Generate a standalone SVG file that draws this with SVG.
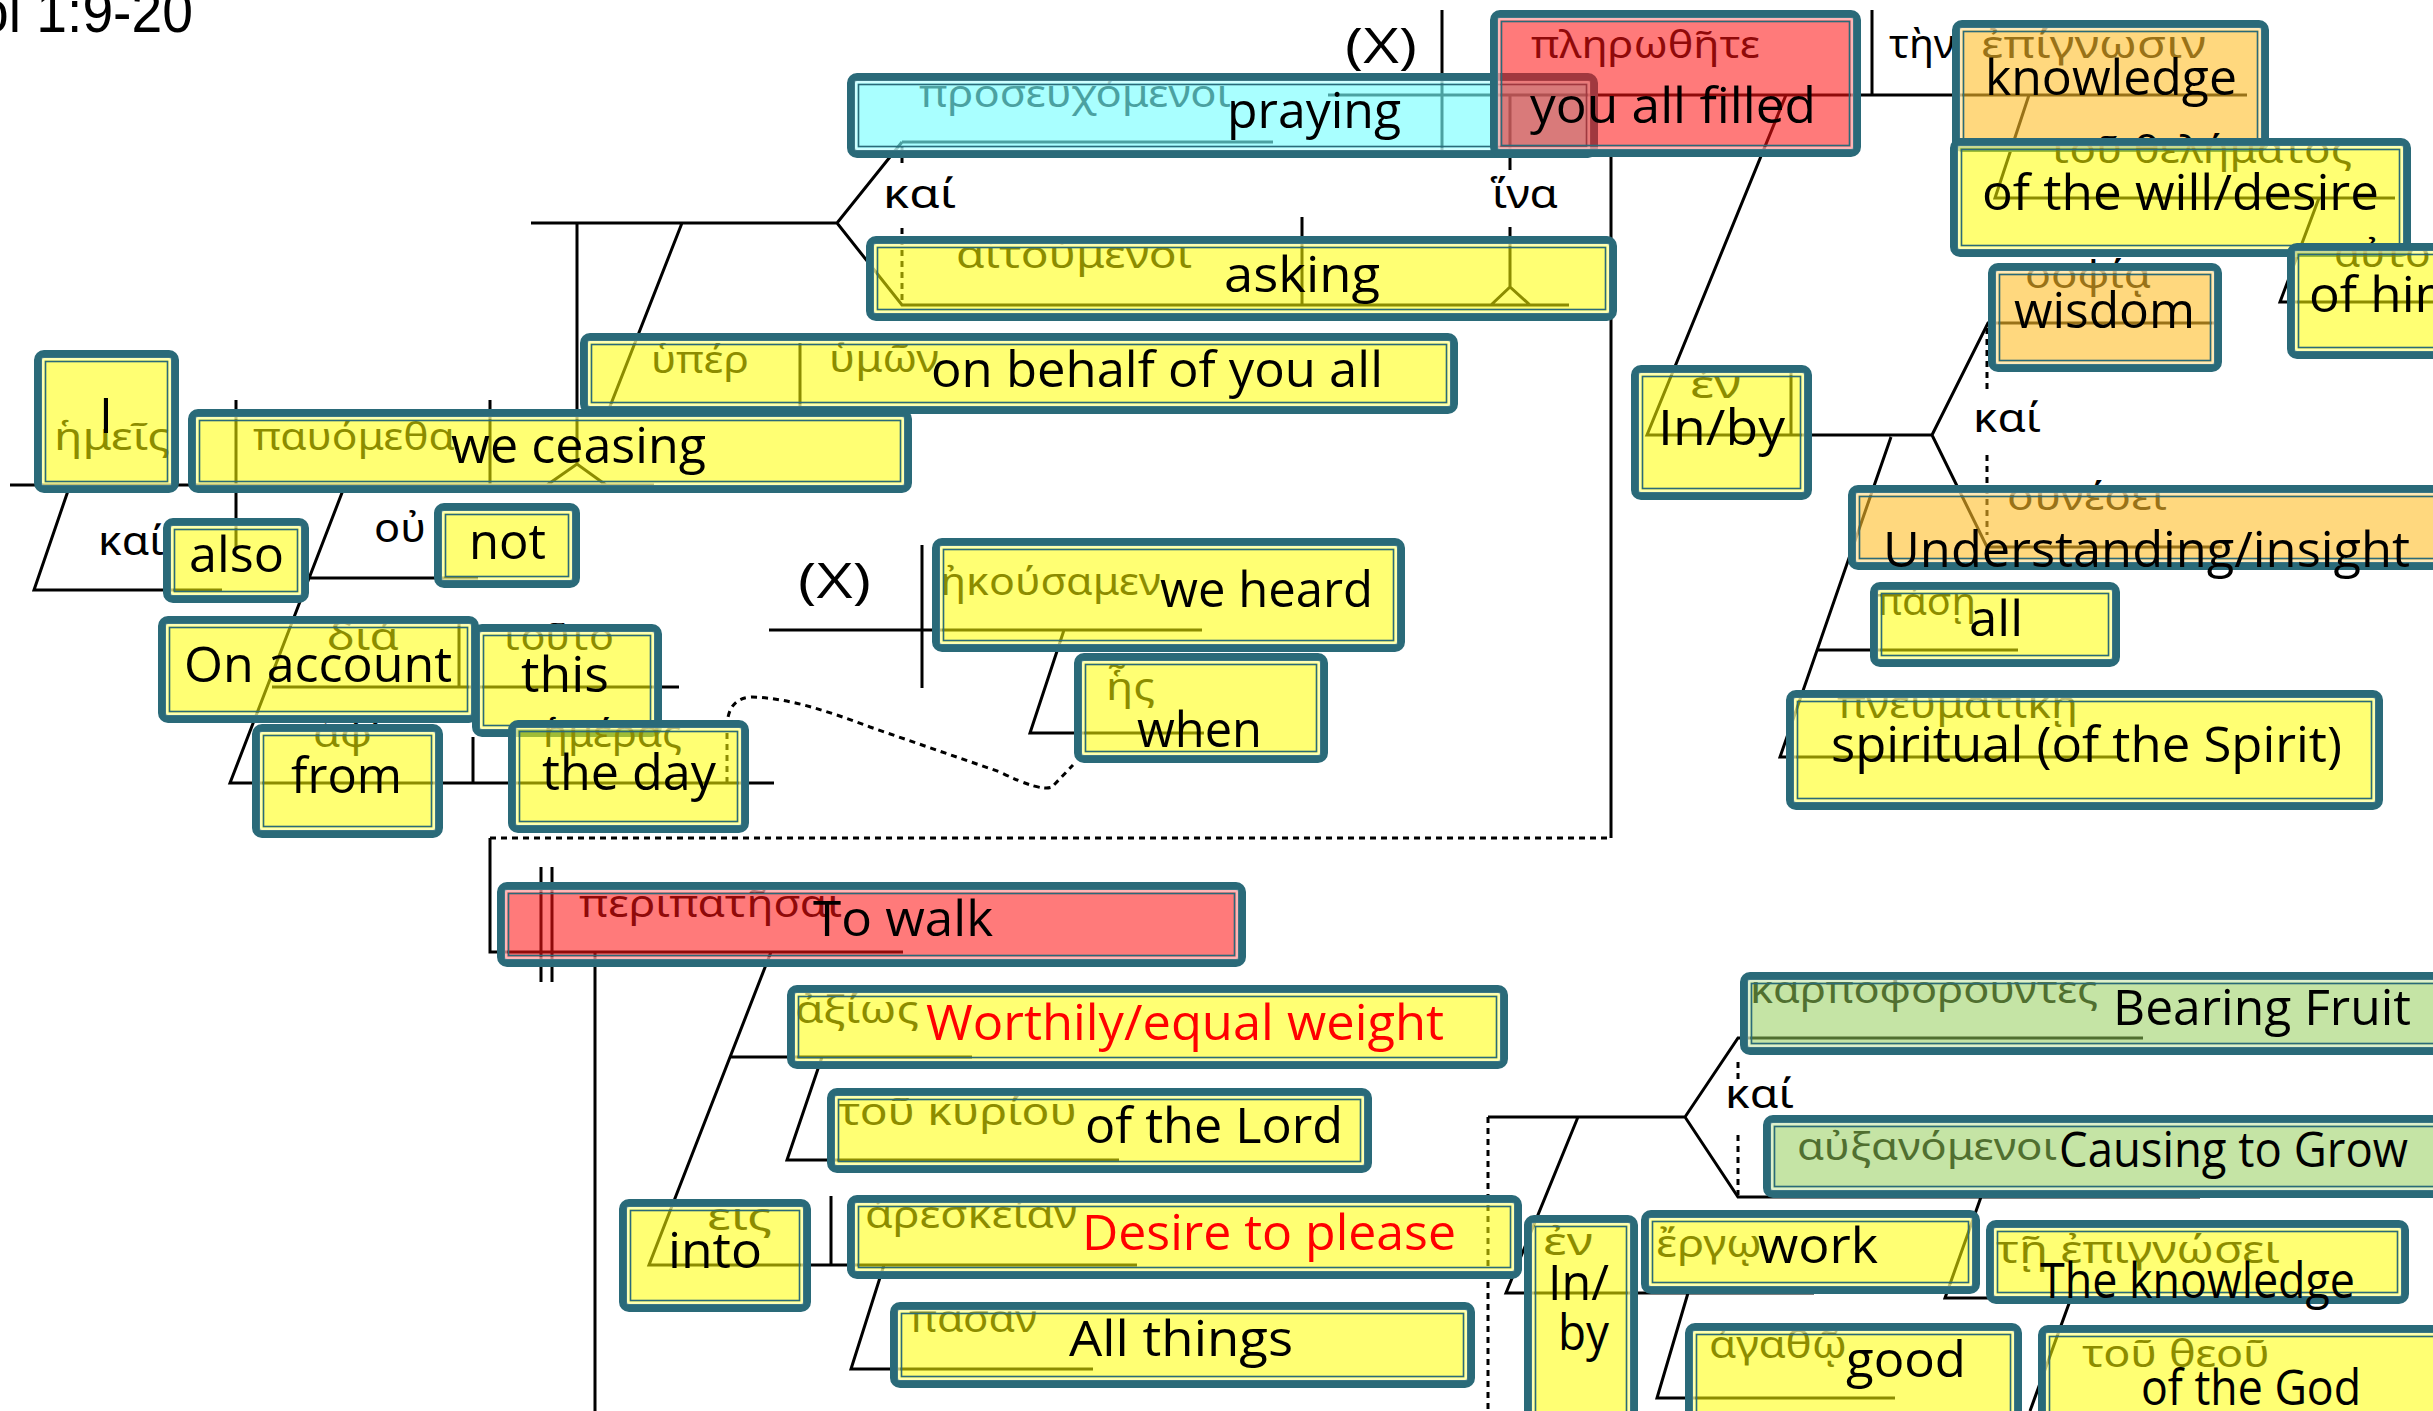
<svg xmlns="http://www.w3.org/2000/svg" width="2433" height="1411" viewBox="0 0 2433 1411">
<style>
.b{stroke:#2A6A79;stroke-width:8}
.y{fill:#FFFF00;fill-opacity:0.55}
.r{fill:#FF1212;fill-opacity:0.56}
.c{fill:#77FFFF;fill-opacity:0.63}
.o{fill:#FFBE28;fill-opacity:0.6}
.g{fill:#94CD58;fill-opacity:0.54}
.pl{fill:none;stroke:#FFFFFF;stroke-opacity:0.45;stroke-width:2.4}
.in{fill:none;stroke:#2A6A79;stroke-width:1.6}
.en{font-family:"Open Sans","DejaVu Sans",sans-serif;font-size:50px;fill:#000}
.red{fill:#FF0000}
.gr{font-family:"Noto Sans","DejaVu Sans",sans-serif;font-size:39px;fill:#000}
.gl{font-family:"Noto Sans","DejaVu Sans",sans-serif;font-size:40px;fill:#000}
.tt{font-family:"Liberation Sans",Arial,sans-serif;font-size:60px;fill:#000}
.ln{stroke:#000;stroke-width:3;fill:none}
.dl{stroke:#000;stroke-width:3;fill:none;stroke-dasharray:6 5}
</style>
<rect x="0" y="0" width="2433" height="1411" fill="#FFFFFF"/>
<text id="title" class="tt" x="-62" y="32" textLength="255" lengthAdjust="spacingAndGlyphs">Col 1:9-20</text>

<g id="connectors">
<path class="ln" d="M1328,95 H2247 M1442,10 V152 M1872,10 V95 M1510,95 V170 M1510,227 V287 M1491,305 L1510,287 L1530,305 M902,142 H1273 M902,142 L837,223 L902,305 H1569 M531,223 H837 M1302,217 V305 M577,223 V466 M547,485 L577,464 L606,485 M10,485 H654 M236,400 V550 M490,400 V485 M682,223 L609,409 H991 M800,343 V409 M70,485 L34,590 H222 M345,485 L230,783 H774 M310,578 H478 M272,687 H679 M459,622 V687 M473,737 V783 M769,630 H1202 M922,545 V688 M1064,630 L1030,733 H1204 M1611,155 V838 M490,838 V952 H903 M541,867 V982 M552,867 V982 M595,952 V1411 M771,952 L649,1265 H1137 M730,1057 H972 M822,1057 L787,1160 H1119 M831,1196 V1265 M884,1265 L851,1369 H1093 M1488,1117 H1685 M1685,1117 L1738,1038 H2143 M1685,1117 L1738,1197 H2200 M1578,1117 L1506,1293 H1814 M1688,1293 L1657,1398 H1895 M1981,1197 L1945,1298 H2403 M2071,1298 L2030,1411 M1786,95 L1647,435 H1932 M1791,373 V435 M1932,435 L1988,323 H2214 M1932,435 L1987,547 H2222 M1891,437 L1780,757 H2120 M1817,650 H2018 M2029,95 L1995,198 H2395 M2319,198 L2280,302 H2440"/>
<path class="dl" d="M902,146 V166 M902,228 V305 M1488,1117 V1411 M1738,1062 V1080 M1738,1135 V1195 M1987,328 V390 M1987,455 V535"/>
<path class="dl" stroke-dasharray="7 5" d="M490,838 H1611"/>
<path class="dl" d="M727,783 L727,728 Q727,698 752,697 C790,698 830,712 870,727 L1000,772 Q1040,792 1052,787 L1073,765"/>
</g>

<g id="labels">
<text class="gl" x="883" y="208" textLength="73" lengthAdjust="spacingAndGlyphs">καί</text>
<text class="gl" x="1492" y="208" textLength="66" lengthAdjust="spacingAndGlyphs">ἵνα</text>
<text class="gl" x="1889" y="58" textLength="66" lengthAdjust="spacingAndGlyphs">τὴν</text>
<text class="gl" x="1973" y="432" textLength="68" lengthAdjust="spacingAndGlyphs">καί</text>
<text class="gl" x="98" y="555" textLength="66" lengthAdjust="spacingAndGlyphs">καί</text>
<text class="gl" x="374" y="542" textLength="52" lengthAdjust="spacingAndGlyphs">οὐ</text>
<text class="gl" x="1725" y="1108" textLength="69" lengthAdjust="spacingAndGlyphs">καί</text>
</g>

<g id="x-top"><text class="en" font-size="52" x="1345" y="63" textLength="72" lengthAdjust="spacingAndGlyphs">(X)</text></g>
<g id="x-mid"><text class="en" font-size="52" x="798" y="598" textLength="73" lengthAdjust="spacingAndGlyphs">(X)</text></g>

<g id="n-hemeis">
<text class="gr" x="54" y="450" textLength="116" lengthAdjust="spacingAndGlyphs">ἡμεῖς</text>
<rect class="b y" x="38" y="354" width="137" height="135" rx="6"/>
<rect class="pl" x="43" y="359" width="127" height="125"/><rect class="in" x="45.5" y="361.5" width="122" height="120"/>
<text class="en" font-size="46" x="99" y="433">I</text>
</g>

<g id="n-ceasing">
<text class="gr" x="253" y="450" textLength="202" lengthAdjust="spacingAndGlyphs">παυόμεθα</text>
<rect class="b y" x="192" y="413" width="716" height="76" rx="6"/>
<rect class="pl" x="197" y="418" width="706" height="66"/><rect class="in" x="199.5" y="420.5" width="701" height="61"/>
<text class="en" x="451" y="463" textLength="255" lengthAdjust="spacingAndGlyphs">we ceasing</text>
</g>

<g id="n-behalf">
<text class="gr" x="651" y="373" textLength="98" lengthAdjust="spacingAndGlyphs">ὑπέρ</text>
<text class="gr" x="829" y="372" textLength="110" lengthAdjust="spacingAndGlyphs">ὑμῶν</text>
<rect class="b y" x="584" y="337" width="870" height="73" rx="6"/>
<rect class="pl" x="589" y="342" width="860" height="63"/><rect class="in" x="591.5" y="344.5" width="855" height="58"/>
<text class="en" x="931" y="387" textLength="452" lengthAdjust="spacingAndGlyphs">on behalf of you all</text>
</g>

<g id="n-praying">
<text class="gr" x="919" y="107" textLength="312" lengthAdjust="spacingAndGlyphs">προσευχόμενοι</text>
<rect class="b c" x="851" y="77" width="743" height="77" rx="6"/>
<rect class="pl" x="856" y="82" width="733" height="67"/><rect class="in" x="858.5" y="84.5" width="728" height="62"/>
<text class="en" x="1227" y="128" textLength="174" lengthAdjust="spacingAndGlyphs">praying</text>
</g>

<g id="n-asking">
<text class="gr" x="956" y="268" textLength="236" lengthAdjust="spacingAndGlyphs">αἰτούμενοι</text>
<rect class="b y" x="870" y="240" width="743" height="77" rx="6"/>
<rect class="pl" x="875" y="245" width="733" height="67"/><rect class="in" x="877.5" y="247.5" width="728" height="62"/>
<text class="en" x="1224" y="292" textLength="156" lengthAdjust="spacingAndGlyphs">asking</text>
</g>

<g id="n-filled">
<text class="gr" x="1531" y="58" textLength="229" lengthAdjust="spacingAndGlyphs">πληρωθῆτε</text>
<rect class="b r" x="1494" y="14" width="363" height="139" rx="6"/>
<rect class="pl" x="1499" y="19" width="353" height="129"/><rect class="in" x="1501.5" y="21.5" width="348" height="124"/>
<text class="en" x="1530" y="123" textLength="286" lengthAdjust="spacingAndGlyphs">you all filled</text>
</g>

<g id="n-knowledge">
<text class="gr" x="1981" y="58" textLength="225" lengthAdjust="spacingAndGlyphs">ἐπίγνωσιν</text>
<rect class="b o" x="1956" y="24" width="309" height="124" rx="6"/>
<rect class="pl" x="1961" y="29" width="299" height="114"/><rect class="in" x="1963.5" y="31.5" width="294" height="109"/>
<text class="en" x="1985" y="95" textLength="252" lengthAdjust="spacingAndGlyphs">knowledge</text>
</g>

<g id="n-will">
<text class="gr" x="2049" y="163" textLength="303" lengthAdjust="spacingAndGlyphs">τοῦ θελήματος</text>
<rect class="b y" x="1954" y="142" width="453" height="111" rx="6"/>
<rect class="pl" x="1959" y="147" width="443" height="101"/><rect class="in" x="1961.5" y="149.5" width="438" height="96"/>
<text class="en" x="1982" y="210" textLength="397" lengthAdjust="spacingAndGlyphs">of the will/desire</text>
</g>

<g id="n-him">
<text class="gr" x="2334" y="267" textLength="122" lengthAdjust="spacingAndGlyphs">αὐτοῦ</text>
<rect class="b y" x="2291" y="247" width="160" height="108" rx="6"/>
<rect class="pl" x="2296" y="252" width="150" height="98"/><rect class="in" x="2298.5" y="254.5" width="145" height="93"/>
<text class="en" x="2309" y="312" textLength="153" lengthAdjust="spacingAndGlyphs">of him</text>
</g>

<g id="n-wisdom">
<text class="gr" x="2025" y="288" textLength="126" lengthAdjust="spacingAndGlyphs">σοφίᾳ</text>
<rect class="b o" x="1992" y="267" width="226" height="101" rx="6"/>
<rect class="pl" x="1997" y="272" width="216" height="91"/><rect class="in" x="1999.5" y="274.5" width="211" height="86"/>
<text class="en" x="2014" y="328" textLength="181" lengthAdjust="spacingAndGlyphs">wisdom</text>
</g>

<g id="n-inby1">
<text class="gr" x="1690" y="398" textLength="51" lengthAdjust="spacingAndGlyphs">ἐν</text>
<rect class="b y" x="1635" y="369" width="173" height="127" rx="6"/>
<rect class="pl" x="1640" y="374" width="163" height="117"/><rect class="in" x="1642.5" y="376.5" width="158" height="112"/>
<text class="en" x="1658" y="445" textLength="127" lengthAdjust="spacingAndGlyphs">In/by</text>
</g>

<g id="n-understanding">
<text class="gr" x="2007" y="510" textLength="160" lengthAdjust="spacingAndGlyphs">συνέσει</text>
<rect class="b o" x="1852" y="489" width="600" height="77" rx="6"/>
<rect class="pl" x="1857" y="494" width="590" height="67"/><rect class="in" x="1859.5" y="496.5" width="585" height="62"/>
<text class="en" x="1883" y="567" textLength="527" lengthAdjust="spacingAndGlyphs">Understanding/insight</text>
</g>

<g id="n-all">
<text class="gr" x="1876" y="615" textLength="100" lengthAdjust="spacingAndGlyphs">πάσῃ</text>
<rect class="b y" x="1874" y="586" width="242" height="77" rx="6"/>
<rect class="pl" x="1879" y="591" width="232" height="67"/><rect class="in" x="1881.5" y="593.5" width="227" height="62"/>
<text class="en" x="1969" y="636" textLength="54" lengthAdjust="spacingAndGlyphs">all</text>
</g>

<g id="n-spiritual">
<text class="gr" x="1837" y="718" textLength="241" lengthAdjust="spacingAndGlyphs">πνευματικῇ</text>
<rect class="b y" x="1790" y="694" width="589" height="112" rx="6"/>
<rect class="pl" x="1795" y="699" width="579" height="102"/><rect class="in" x="1797.5" y="701.5" width="574" height="97"/>
<text class="en" x="1831" y="762" textLength="511" lengthAdjust="spacingAndGlyphs">spiritual (of the Spirit)</text>
</g>

<g id="n-also">
<rect class="b y" x="167" y="522" width="138" height="77" rx="6"/>
<rect class="pl" x="172" y="527" width="128" height="67"/><rect class="in" x="174.5" y="529.5" width="123" height="62"/>
<text class="en" x="189" y="572" textLength="95" lengthAdjust="spacingAndGlyphs">also</text>
</g>

<g id="n-not">
<rect class="b y" x="438" y="507" width="138" height="77" rx="6"/>
<rect class="pl" x="443" y="512" width="128" height="67"/><rect class="in" x="445.5" y="514.5" width="123" height="62"/>
<text class="en" x="469" y="559" textLength="77" lengthAdjust="spacingAndGlyphs">not</text>
</g>

<g id="n-from">
<text class="gr" x="313" y="747" textLength="66" lengthAdjust="spacingAndGlyphs">ἀφ’</text>
<rect class="b y" x="256" y="728" width="183" height="106" rx="6"/>
<rect class="pl" x="261" y="733" width="173" height="96"/><rect class="in" x="263.5" y="735.5" width="168" height="91"/>
<text class="en" x="291" y="793" textLength="111" lengthAdjust="spacingAndGlyphs">from</text>
</g>

<g id="n-account">
<text class="gr" x="327" y="650" textLength="72" lengthAdjust="spacingAndGlyphs">διά</text>
<rect class="b y" x="162" y="620" width="313" height="99" rx="6"/>
<rect class="pl" x="167" y="625" width="303" height="89"/><rect class="in" x="169.5" y="627.5" width="298" height="84"/>
<text class="en" x="184" y="682" textLength="268" lengthAdjust="spacingAndGlyphs">On account</text>
</g>

<g id="n-this">
<text class="gr" x="501" y="650" textLength="113" lengthAdjust="spacingAndGlyphs">τοῦτο</text>
<rect class="b y" x="476" y="628" width="182" height="105" rx="6"/>
<rect class="pl" x="481" y="633" width="172" height="95"/><rect class="in" x="483.5" y="635.5" width="167" height="90"/>
<text class="en" x="521" y="692" textLength="88" lengthAdjust="spacingAndGlyphs">this</text>
</g>

<g id="n-day">
<text class="gr" x="543" y="747" textLength="139" lengthAdjust="spacingAndGlyphs">ἡμέρας</text>
<rect class="b y" x="512" y="724" width="233" height="105" rx="6"/>
<rect class="pl" x="517" y="729" width="223" height="95"/><rect class="in" x="519.5" y="731.5" width="218" height="90"/>
<text class="en" x="542" y="790" textLength="174" lengthAdjust="spacingAndGlyphs">the day</text>
</g>

<g id="n-heard">
<text class="gr" x="940" y="595" textLength="221" lengthAdjust="spacingAndGlyphs">ἠκούσαμεν</text>
<rect class="b y" x="936" y="542" width="465" height="106" rx="6"/>
<rect class="pl" x="941" y="547" width="455" height="96"/><rect class="in" x="943.5" y="549.5" width="450" height="91"/>
<text class="en" x="1160" y="607" textLength="213" lengthAdjust="spacingAndGlyphs">we heard</text>
</g>

<g id="n-when">
<text class="gr" x="1106" y="700" textLength="49" lengthAdjust="spacingAndGlyphs">ἧς</text>
<rect class="b y" x="1078" y="657" width="246" height="102" rx="6"/>
<rect class="pl" x="1083" y="662" width="236" height="92"/><rect class="in" x="1085.5" y="664.5" width="231" height="87"/>
<text class="en" x="1137" y="747" textLength="125" lengthAdjust="spacingAndGlyphs">when</text>
</g>

<g id="n-walk">
<text class="gr" x="579" y="917" textLength="263" lengthAdjust="spacingAndGlyphs">περιπατῆσαι</text>
<rect class="b r" x="501" y="886" width="741" height="77" rx="6"/>
<rect class="pl" x="506" y="891" width="731" height="67"/><rect class="in" x="508.5" y="893.5" width="726" height="62"/>
<text class="en" x="813" y="936" textLength="180" lengthAdjust="spacingAndGlyphs">To walk</text>
</g>

<g id="n-worthily">
<text class="gr" x="795" y="1023" textLength="124" lengthAdjust="spacingAndGlyphs">ἀξίως</text>
<rect class="b y" x="791" y="989" width="713" height="76" rx="6"/>
<rect class="pl" x="796" y="994" width="703" height="66"/><rect class="in" x="798.5" y="996.5" width="698" height="61"/>
<text class="en red" x="926" y="1040" textLength="518" lengthAdjust="spacingAndGlyphs">Worthily/equal weight</text>
</g>

<g id="n-lord">
<text class="gr" x="838" y="1125" textLength="239" lengthAdjust="spacingAndGlyphs">τοῦ κυρίου</text>
<rect class="b y" x="831" y="1092" width="537" height="77" rx="6"/>
<rect class="pl" x="836" y="1097" width="527" height="67"/><rect class="in" x="838.5" y="1099.5" width="522" height="62"/>
<text class="en" x="1085" y="1143" textLength="258" lengthAdjust="spacingAndGlyphs">of the Lord</text>
</g>

<g id="n-into">
<text class="gr" x="707" y="1230" textLength="65" lengthAdjust="spacingAndGlyphs">εἰς</text>
<rect class="b y" x="623" y="1203" width="184" height="105" rx="6"/>
<rect class="pl" x="628" y="1208" width="174" height="95"/><rect class="in" x="630.5" y="1210.5" width="169" height="90"/>
<text class="en" x="668" y="1268" textLength="94" lengthAdjust="spacingAndGlyphs">into</text>
</g>

<g id="n-desire">
<text class="gr" x="865" y="1228" textLength="212" lengthAdjust="spacingAndGlyphs">ἀρεσκείαν</text>
<rect class="b y" x="851" y="1199" width="667" height="76" rx="6"/>
<rect class="pl" x="856" y="1204" width="657" height="66"/><rect class="in" x="858.5" y="1206.5" width="652" height="61"/>
<text class="en red" x="1082" y="1250" textLength="374" lengthAdjust="spacingAndGlyphs">Desire to please</text>
</g>

<g id="n-allthings">
<text class="gr" x="909" y="1332" textLength="128" lengthAdjust="spacingAndGlyphs">πᾶσαν</text>
<rect class="b y" x="894" y="1306" width="577" height="78" rx="6"/>
<rect class="pl" x="899" y="1311" width="567" height="68"/><rect class="in" x="901.5" y="1313.5" width="562" height="63"/>
<text class="en" x="1069" y="1356" textLength="224" lengthAdjust="spacingAndGlyphs">All things</text>
</g>

<g id="n-bearing">
<text class="gr" x="1750" y="1003" textLength="348" lengthAdjust="spacingAndGlyphs">καρποφοροῦντες</text>
<rect class="b g" x="1744" y="976" width="710" height="75" rx="6"/>
<rect class="pl" x="1749" y="981" width="700" height="65"/><rect class="in" x="1751.5" y="983.5" width="695" height="60"/>
<text class="en" x="2113" y="1025" textLength="298" lengthAdjust="spacingAndGlyphs">Bearing Fruit</text>
</g>

<g id="n-causing">
<text class="gr" x="1797" y="1160" textLength="260" lengthAdjust="spacingAndGlyphs">αὐξανόμενοι</text>
<rect class="b g" x="1767" y="1119" width="690" height="75" rx="6"/>
<rect class="pl" x="1772" y="1124" width="680" height="65"/><rect class="in" x="1774.5" y="1126.5" width="675" height="60"/>
<text class="en" x="2059" y="1167" textLength="349" lengthAdjust="spacingAndGlyphs">Causing to Grow</text>
</g>

<g id="n-inby2">
<text class="gr" x="1543" y="1255" textLength="50" lengthAdjust="spacingAndGlyphs">ἐν</text>
<rect class="b y" x="1528" y="1219" width="106" height="210" rx="6"/>
<rect class="pl" x="1533" y="1224" width="96" height="200"/><rect class="in" x="1535.5" y="1226.5" width="91" height="195"/>
<text class="en" x="1548" y="1300" textLength="61" lengthAdjust="spacingAndGlyphs">In/</text>
<text class="en" x="1558" y="1350" textLength="51" lengthAdjust="spacingAndGlyphs">by</text>
</g>

<g id="n-work">
<text class="gr" x="1656" y="1257" textLength="106" lengthAdjust="spacingAndGlyphs">ἔργῳ</text>
<rect class="b y" x="1645" y="1214" width="331" height="76" rx="6"/>
<rect class="pl" x="1650" y="1219" width="321" height="66"/><rect class="in" x="1652.5" y="1221.5" width="316" height="61"/>
<text class="en" x="1758" y="1263" textLength="120" lengthAdjust="spacingAndGlyphs">work</text>
</g>

<g id="n-theknowledge">
<text class="gr" x="1996" y="1263" textLength="284" lengthAdjust="spacingAndGlyphs">τῇ ἐπιγνώσει</text>
<rect class="b y" x="1990" y="1224" width="415" height="76" rx="6"/>
<rect class="pl" x="1995" y="1229" width="405" height="66"/><rect class="in" x="1997.5" y="1231.5" width="400" height="61"/>
<text class="en" x="2040" y="1298" textLength="315" lengthAdjust="spacingAndGlyphs">The knowledge</text>
</g>

<g id="n-good">
<text class="gr" x="1709" y="1358" textLength="138" lengthAdjust="spacingAndGlyphs">ἀγαθῷ</text>
<rect class="b y" x="1689" y="1327" width="329" height="100" rx="6"/>
<rect class="pl" x="1694" y="1332" width="319" height="90"/><rect class="in" x="1696.5" y="1334.5" width="314" height="85"/>
<text class="en" x="1846" y="1377" textLength="120" lengthAdjust="spacingAndGlyphs">good</text>
</g>

<g id="n-god">
<text class="gr" x="2082" y="1367" textLength="188" lengthAdjust="spacingAndGlyphs">τοῦ θεοῦ</text>
<rect class="b y" x="2042" y="1329" width="410" height="100" rx="6"/>
<rect class="pl" x="2047" y="1334" width="400" height="90"/><rect class="in" x="2049.5" y="1336.5" width="395" height="85"/>
<text class="en" x="2141" y="1405" textLength="220" lengthAdjust="spacingAndGlyphs">of the God</text>
</g>
</svg>
